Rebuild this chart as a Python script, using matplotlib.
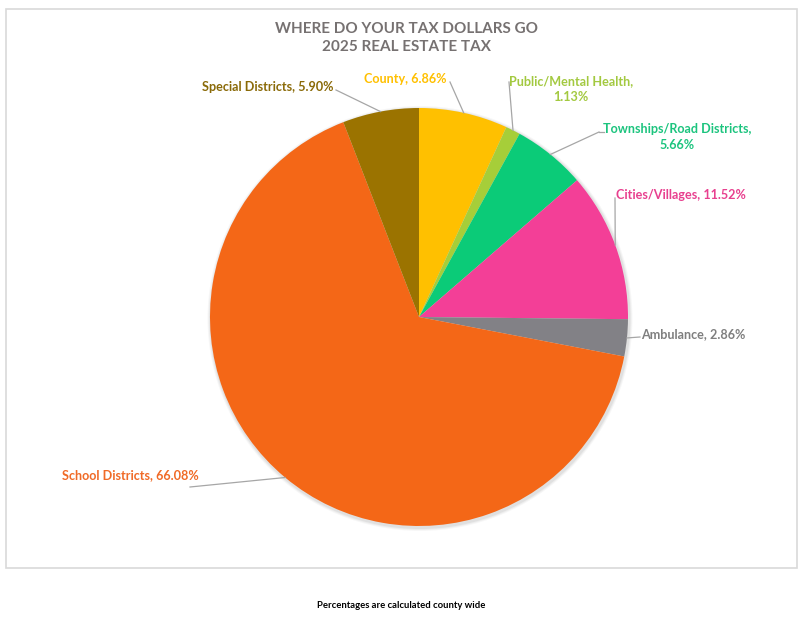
import numpy as np
import matplotlib
matplotlib.use("Agg")
import matplotlib.pyplot as plt
from matplotlib.patches import Rectangle

categories = ["County", "Public/Mental Health", "Townships/Road Districts",
              "Cities/Villages", "Ambulance", "School Districts", "Special Districts"]
values = [6.86, 1.13, 5.66, 11.52, 2.86, 66.08, 5.90]
label_texts = ["County, 6.86%", "Public/Mental Health,\n1.13%",
               "Townships/Road Districts,\n5.66%", "Cities/Villages, 11.52%",
               "Ambulance, 2.86%", "School Districts, 66.08%", "Special Districts, 5.90%"]
title_lines = ["WHERE DO YOUR TAX DOLLARS GO", "2025 REAL ESTATE TAX"]
footer = "Percentages are calculated county wide"

slice_colors = ["#FFC000", "#A6CE39", "#0BCB78", "#F33F97", "#828186", "#F46717", "#9B7300"]
text_colors = ["#FFC000", "#A3C940", "#1CC47E", "#E8408F", "#7F7F7F", "#F06A26", "#8A6A08"]

W, H = 804, 618
plt.rcParams['font.family'] = ['Lato', 'DejaVu Sans']
fig = plt.figure(figsize=(W / 100, H / 100), dpi=100)
ax = fig.add_axes([0, 0, 1, 1])
ax.set_xlim(0, W)
ax.set_ylim(0, H)
ax.set_aspect('equal')
ax.axis('off')

def Y(y):
    return H - y

# border box
ax.add_patch(Rectangle((6, Y(568)), 791, 559, fill=False, ec="#D9D9D9", lw=1.2))

cx, cy, r = 419, Y(317), 209
# soft shadow
for i, a in enumerate([0.05, 0.04, 0.03]):
    ax.add_patch(plt.Circle((cx + 1, cy - 1.5), r + 1.5 + i, color="k", alpha=a, lw=0, zorder=1))
wedges, _ = ax.pie(values, colors=slice_colors, startangle=90, counterclock=False,
                   center=(cx, cy), radius=r, frame=True,
                   wedgeprops=dict(linewidth=0, zorder=2))
ax.set_xlim(0, W)
ax.set_ylim(0, H)
ax.axis('off')

# label layout: (x, y, ha, anchor of leader line end)
layout = [
    (364, 79, 'left', (450, 82)),
    (571, 89, 'center', (509, 82)),
    (677, 137, 'center', (599, 132)),
    (616, 195, 'left', (615, 198)),
    (641, 334, 'left', (640, 337)),
    (62, 475, 'left', (190, 487)),
    (334, 87, 'right', (336, 90)),
]

cum = np.cumsum([0] + values[:-1])
total = sum(values)
for i, (v, c0) in enumerate(zip(values, cum)):
    mid = (c0 + v / 2) / total * 2 * np.pi
    px = cx + r * np.sin(mid)
    py = cy + r * np.cos(mid)
    x, y, ha, (lx, ly) = layout[i]
    ax.plot([px, lx], [py, Y(ly)], color="#A6A6A6", lw=0.9, zorder=3)
    if i == 2:
        ax.plot([lx, lx + 5], [Y(ly), Y(ly)], color="#A6A6A6", lw=0.9, zorder=3)
    ax.text(x, Y(y), label_texts[i], color=text_colors[i], ha=ha, va='center',
            fontsize=9.1, fontweight='bold', linespacing=1.35, multialignment='center')

ax.text(407, Y(29), title_lines[0], ha='center', va='center', fontsize=11,
        fontweight='bold', color="#767171")
ax.text(407, Y(47), title_lines[1], ha='center', va='center', fontsize=11,
        fontweight='bold', color="#767171")
ax.text(401, Y(606), footer, ha='center', va='center', fontsize=6.8,
        fontweight='bold', color="#000000")

fig.savefig("out.png", dpi=100)
